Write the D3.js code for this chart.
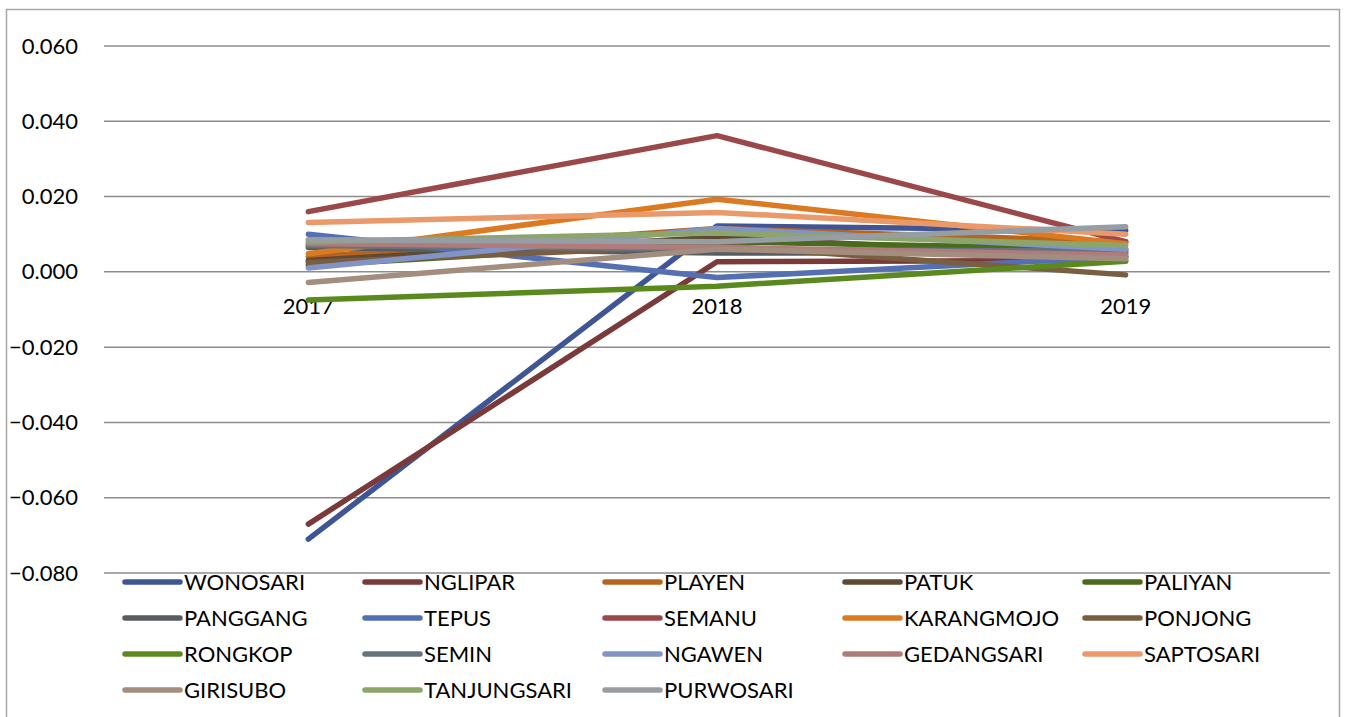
<!DOCTYPE html>
<html><head><meta charset="utf-8">
<script src="https://cdn.jsdelivr.net/npm/d3@7"></script>
<style>body{margin:0;background:#fff;} text{font-family:Lato,"Open Sans",sans-serif;}</style>
</head><body><svg id="c" width="1345" height="717"></svg>
<script>
const years = ["2017","2018","2019"];
const names = ["WONOSARI","NGLIPAR","PLAYEN","PATUK","PALIYAN","PANGGANG","TEPUS","SEMANU","KARANGMOJO","PONJONG","RONGKOP","SEMIN","NGAWEN","GEDANGSARI","SAPTOSARI","GIRISUBO","TANJUNGSARI","PURWOSARI"];
const colors = ["#3F5596","#7B3A3A","#B5651D","#5E4A33","#4A6B1E","#555D63","#5470B3","#9A4849","#DC7A22","#7A5E41","#5A8A1E","#66737A","#8294C6","#B07C7B","#E9996A","#A38D7E","#8BA56B","#979EA3"];
const WONOSARI = [-0.071, 0.0122, 0.011];
const NGLIPAR = [-0.067, 0.0027, 0.003];
const PLAYEN = [0.004, 0.0115, 0.008];
const PATUK = [0.003, 0.0092, 0.004];
const PALIYAN = [0.0017, 0.008, 0.006];
const PANGGANG = [0.0065, 0.005, 0.005];
const TEPUS = [0.010, -0.0015, 0.004];
const SEMANU = [0.016, 0.0362, 0.008];
const KARANGMOJO = [0.0048, 0.0193, 0.0075];
const PONJONG = [0.0025, 0.007, -0.0008];
const RONGKOP = [-0.0075, -0.0038, 0.0028];
const SEMIN = [0.007, 0.006, 0.0055];
const NGAWEN = [0.001, 0.0115, 0.006];
const GEDANGSARI = [0.0075, 0.0065, 0.0045];
const SAPTOSARI = [0.0131, 0.0158, 0.010];
const GIRISUBO = [-0.0028, 0.006, 0.0035];
const TANJUNGSARI = [0.008, 0.0103, 0.007];
const PURWOSARI = [0.0085, 0.008, 0.012];
const values = [WONOSARI,NGLIPAR,PLAYEN,PATUK,PALIYAN,PANGGANG,TEPUS,SEMANU,KARANGMOJO,PONJONG,RONGKOP,SEMIN,NGAWEN,GEDANGSARI,SAPTOSARI,GIRISUBO,TANJUNGSARI,PURWOSARI];
const yTicks = [0.06,0.04,0.02,0,-0.02,-0.04,-0.06,-0.08];

const svg = d3.select("#c");
svg.append("rect").attr("x",6.5).attr("y",9.5).attr("width",1333).attr("height",720)
  .attr("fill","#fff").attr("stroke","#A6A6A6").attr("stroke-width",1.5);

const x = d3.scaleBand().domain(years).range([104,1330]);
const y = d3.scaleLinear().domain([-0.08,0.06]).range([573,46]);

// gridlines
svg.append("g").selectAll("line").data(yTicks).join("line")
  .attr("x1",104).attr("x2",1330).attr("y1",d=>y(d)).attr("y2",d=>y(d))
  .attr("stroke","#8C8C8C").attr("stroke-width",1.5);

// y axis labels
const yAxis = d3.axisLeft(y).tickValues(yTicks).tickFormat(d3.format(".3f")).tickSize(0).tickPadding(0);
const ya = svg.append("g").attr("transform","translate(78,0)").call(yAxis);
ya.select(".domain").remove();
ya.selectAll("text").attr("font-size",22).attr("fill","#000").attr("font-family","Lato");

// x axis labels at zero line
const xAxis = d3.axisBottom(x).tickSize(0).tickPadding(0);
const xa = svg.append("g").attr("transform",`translate(0,${y(0)+42})`).call(xAxis);
xa.select(".domain").remove();
xa.selectAll("text").attr("font-size",22).attr("fill","#000").attr("font-family","Lato").attr("dy","0em");

const line = d3.line().x((d,i)=>x(years[i])+x.bandwidth()/2).y(d=>y(d));
svg.append("g").selectAll("path").data(values).join("path")
  .attr("d",line).attr("fill","none").attr("stroke",(d,i)=>colors[i])
  .attr("stroke-width",5.5).attr("stroke-linejoin","round").attr("stroke-linecap","round");

// legend
const lg = svg.append("g");
names.forEach((n,i)=>{
  const col = i%5, row = Math.floor(i/5);
  const lx = 125 + col*240, ly = 582 + row*36;
  lg.append("line").attr("x1",lx).attr("x2",lx+55).attr("y1",ly).attr("y2",ly)
    .attr("stroke",colors[i]).attr("stroke-width",5.5).attr("stroke-linecap","round");
  lg.append("text").attr("x",lx+59).attr("y",ly).attr("dy","0.36em")
    .attr("font-size",22).attr("fill","#000").text(n);
});
</script></body></html>
